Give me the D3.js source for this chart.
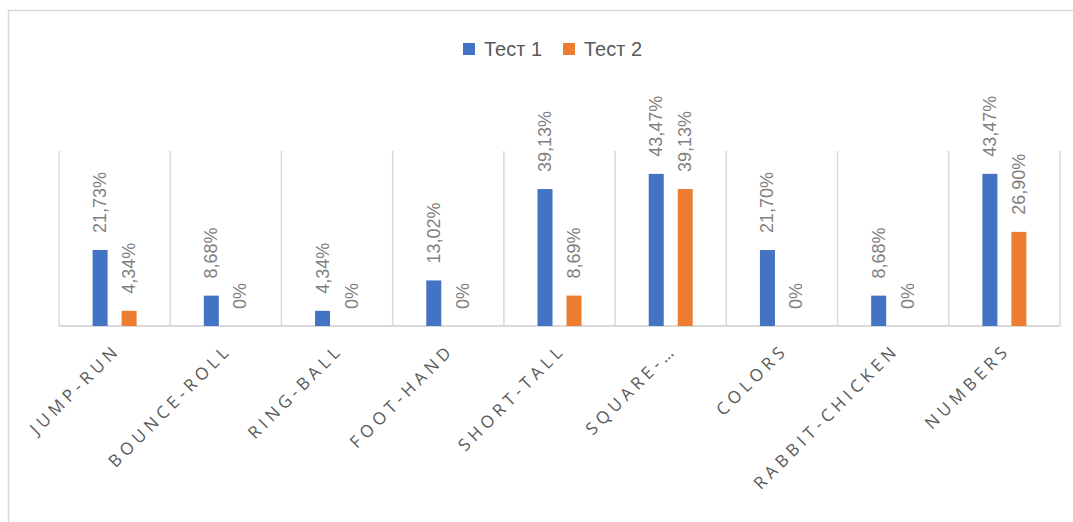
<!DOCTYPE html>
<html>
<head>
<meta charset="utf-8">
<script src="https://cdn.jsdelivr.net/npm/d3@7"></script>
<style>
  body { margin: 0; background: #fff; }
  svg { display: block; }
</style>
</head>
<body>
<div id="chart"></div>
<script>
// chart values
const categories = ['JUMP-RUN', 'BOUNCE-ROLL', 'RING-BALL', 'FOOT-HAND', 'SHORT-TALL', 'SQUARE-…', 'COLORS', 'RABBIT-CHICKEN', 'NUMBERS'];
const seriesNames = ['Тест 1', 'Тест 2'];
const test1 = [21.73, 8.68, 4.34, 13.02, 39.13, 43.47, 21.70, 8.68, 43.47];
const test2 = [4.34, 0, 0, 0, 8.69, 39.13, 0, 0, 26.90];
const colors = ['#4472C4', '#ED7D31'];

const width = 1073, height = 522;
const margin = { top: 151, left: 59, right: 13, bottom: 196 };

const svg = d3.select('#chart').append('svg')
  .attr('width', width)
  .attr('height', height);

// chart frame (only top and left edge visible)
svg.append('rect')
  .attr('x', 8.5).attr('y', 10.5)
  .attr('width', width + 20).attr('height', height + 20)
  .attr('fill', '#fff')
  .attr('stroke', '#d9d9d9')
  .attr('stroke-width', 1.5);

const x = d3.scaleBand()
  .domain(categories)
  .range([margin.left, width - margin.right])
  .paddingInner(0)
  .paddingOuter(0);

const y = d3.scaleLinear()
  .domain([0, 50])
  .range([height - margin.bottom, margin.top]);

const barW = 15, gap = 14;
const offsets = [-(gap / 2 + barW), gap / 2];

// vertical separators between categories
const seps = d3.range(categories.length + 1).map(i => margin.left + i * x.step());
svg.append('g').selectAll('line')
  .data(seps)
  .enter().append('line')
  .attr('x1', d => d).attr('x2', d => d)
  .attr('y1', y(50)).attr('y2', y(0))
  .attr('stroke', '#d9d9d9')
  .attr('stroke-width', 1.5);

// baseline
svg.append('line')
  .attr('x1', margin.left).attr('x2', width - margin.right)
  .attr('y1', y(0)).attr('y2', y(0))
  .attr('stroke', '#d9d9d9')
  .attr('stroke-width', 2);

const series = [test1, test2];
const fmt = v => v === 0 ? '0%' : d3.format('.2f')(v).replace('.', ',') + '%';

series.forEach((vals, s) => {
  const g = svg.append('g');
  g.selectAll('rect')
    .data(vals)
    .enter().append('rect')
    .attr('x', (d, i) => x(categories[i]) + x.bandwidth() / 2 + offsets[s])
    .attr('y', d => y(d))
    .attr('width', barW)
    .attr('height', d => y(0) - y(d))
    .attr('fill', colors[s]);

  g.selectAll('text')
    .data(vals)
    .enter().append('text')
    .attr('transform', (d, i) => {
      const cx = x(categories[i]) + x.bandwidth() / 2 + offsets[s] + barW / 2 + 6;
      return `translate(${cx},${y(d) - 17}) rotate(-90)`;
    })
    .attr('font-family', '"Liberation Sans", Arial, sans-serif')
    .attr('font-size', 18)
    .attr('fill', '#7f7f7f')
    .text(fmt);
});

// category labels, rotated
svg.append('g').selectAll('text')
  .data(categories)
  .enter().append('text')
  .attr('transform', d => {
    const cx = x(d) + x.bandwidth() / 2 + 7;
    return `translate(${cx},351) rotate(-45)`;
  })
  .attr('text-anchor', 'end')
  .attr('font-family', '"Open Sans", "Liberation Sans", sans-serif')
  .attr('font-size', 17)
  .attr('letter-spacing', 4.5)
  .attr('fill', '#595959')
  .text(d => d);

// legend
const legend = svg.append('g');
const legendX = [463, 563];
seriesNames.forEach((name, i) => {
  legend.append('rect')
    .attr('x', legendX[i]).attr('y', 43)
    .attr('width', 12).attr('height', 12)
    .attr('fill', colors[i]);
  legend.append('text')
    .attr('x', legendX[i] + 21).attr('y', 56)
    .attr('font-family', '"Liberation Sans", Arial, sans-serif')
    .attr('font-size', 20)
    .attr('fill', '#595959')
    .text(name);
});
</script>
</body>
</html>
